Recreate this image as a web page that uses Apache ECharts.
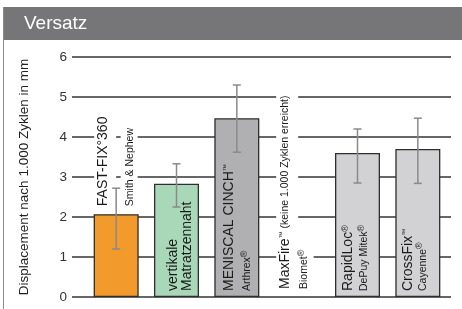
<!DOCTYPE html>
<html><head><meta charset="utf-8">
<script src="https://cdn.jsdelivr.net/npm/echarts@6/dist/echarts.min.js"></script>
<style>html,body{margin:0;padding:0;background:#fff}#c{width:462px;height:309px}</style>
</head><body><div id="c"></div>
<script>
// ---- data ----
var categories = ['FAST-FIX°360', 'vertikale Matratzennaht', 'MENISCAL CINCH™', 'MaxFire™', 'RapidLoc®', 'CrossFix™'];
var manufacturers = ['Smith & Nephew', '', 'Arthrex®', 'Biomet®', 'DePuy Mitek®', 'Cayenne®'];
var meanValues = [2.07, 2.83, 4.47, null, 3.6, 3.7];
var errLow = [1.2, 2.25, 3.62, null, 2.85, 2.84];
var errHigh = [2.72, 3.33, 5.3, null, 4.2, 4.47];
var yTicks = [0, 1, 2, 3, 4, 5, 6];
var titleText = 'Versatz';
var yAxisTitle = 'Displacement nach 1.000 Zyklen in mm';

// ---- styles (not data) ----
var barColors = ['#F39A2C', '#A8D8B8', '#B0B0B2', '#D2D2D4', '#D2D2D4', '#D2D2D4'];
var FONT = 'Liberation Sans, Arial, sans-serif';
// [main offset, sub offset, placement]
var labelLayout = [
  [-11, 13, 'above'],
  [-3.5, 10.5, 'base'],
  [-7.5, 10.5, 'base'],
  [-10, 6, 'base'],
  [-9, 7, 'base'],
  [-9.5, 5, 'base']
];
var mainTexts = [
  '{m|FAST-FIX°360}',
  '{m|vertikale}',
  '{m|MENISCAL CINCH}{t|™}',
  '{m|MaxFire}{t|™}{s| (keine 1.000 Zyklen erreicht)}',
  '{m|RapidLoc}{r|®}',
  '{m|CrossFix}{t|™}'
];
var subTexts = [
  '{s|Smith & Nephew}',
  '{m|Matratzennaht}',
  '{s|Arthrex}{r|®}',
  '{s|Biomet}{r|®}',
  '{s|DePuy Mitek}{r|®}',
  '{s|Cayenne}{r|®}'
];
var rich = {
  m: {fontSize: 14, fontFamily: FONT, fill: '#1a1a1a', color: '#1a1a1a'},
  s: {fontSize: 10.5, fontFamily: FONT, fill: '#1a1a1a', color: '#1a1a1a'},
  t: {fontSize: 7, fontFamily: FONT, fill: '#1a1a1a', color: '#1a1a1a', verticalAlign: 'top', padding: [0,0,6,0]},
  r: {fontSize: 9, fontFamily: FONT, fill: '#1a1a1a', color: '#1a1a1a', padding: [0,0,6,0]}
};

var yMin = yTicks[0], yMax = yTicks[yTicks.length - 1];
var chart = echarts.init(document.getElementById('c'), null, {renderer: 'canvas'});

var customData = categories.map(function (c, i) {
  return [i, meanValues[i] == null ? 0 : meanValues[i], errLow[i], errHigh[i]];
});

function renderItem(params, api) {
  var i = api.value(0);
  var lay = labelLayout[i];
  var children = [];
  var base = api.coord([i, 0]);
  var cx = base[0];
  var lo = errLow[i], hi = errHigh[i];
  var yStart;
  var outside = lay[2] === 'above' || meanValues[i] == null;
  if (lay[2] === 'above') {
    yStart = api.coord([i, meanValues[i]])[1] - 6;
  } else {
    yStart = base[1] - 6;
  }
  var bg = outside ? '#fff' : null;
  children.push({
    type: 'text', x: cx + lay[0], y: yStart, rotation: Math.PI / 2, z2: 5,
    style: {text: mainTexts[i], rich: rich, align: 'left', verticalAlign: 'middle',
      backgroundColor: bg, padding: outside ? [2, 2, 6, 2] : 0, fill: '#1a1a1a'}
  });
  children.push({
    type: 'text', x: cx + lay[1], y: yStart, rotation: Math.PI / 2, z2: 5,
    style: {text: subTexts[i], rich: rich, align: 'left', verticalAlign: 'middle',
      backgroundColor: bg, padding: outside ? [4, 2, 2, 2] : 0, fill: '#1a1a1a'}
  });
  if (lo != null && hi != null) {
    var pLo = api.coord([i, lo]), pHi = api.coord([i, hi]);
    var st = {stroke: '#8a8a8a', lineWidth: 1.5};
    children.push({type: 'line', z2: 10, shape: {x1: cx, y1: pLo[1], x2: cx, y2: pHi[1]}, style: st});
    children.push({type: 'line', z2: 10, shape: {x1: cx - 4, y1: pLo[1], x2: cx + 4, y2: pLo[1]}, style: st});
    children.push({type: 'line', z2: 10, shape: {x1: cx - 4, y1: pHi[1], x2: cx + 4, y2: pHi[1]}, style: st});
  }
  return {type: 'group', children: children};
}

var option = {
  animation: false,
  grid: [
    {left: 72, right: 11, top: 57, bottom: 12},
    {left: 86, right: 14, top: 57, bottom: 12}
  ],
  xAxis: [
    {gridIndex: 0, type: 'category', data: categories, show: false},
    {gridIndex: 1, type: 'category', data: categories, show: false}
  ],
  yAxis: [
    {gridIndex: 0, type: 'value', min: yMin, max: yMax, interval: 1,
      axisLine: {show: false}, axisTick: {show: false},
      axisLabel: {margin: 5, fontSize: 13.5, color: '#333', fontFamily: FONT},
      splitLine: {lineStyle: {color: '#333', width: 1.5}},
      name: yAxisTitle, nameLocation: 'middle', nameGap: 41,
      nameTextStyle: {fontSize: 13.5, color: '#222', fontFamily: FONT}
    },
    {gridIndex: 1, type: 'value', min: yMin, max: yMax, interval: 1, show: false, splitLine: {show: false}}
  ],
  series: [
    {type: 'bar', xAxisIndex: 1, yAxisIndex: 1, barWidth: 45,
      data: meanValues.map(function (v, i) {
        return {value: v == null ? '-' : v, itemStyle: {color: barColors[i]}};
      }),
      itemStyle: {borderColor: '#2e2e2e', borderWidth: 1.3}
    },
    {type: 'custom', xAxisIndex: 1, yAxisIndex: 1, renderItem: renderItem, data: customData, z: 5}
  ],
  graphic: [
    {type: 'rect', shape: {x: 3, y: 7, width: 459, height: 33}, style: {fill: '#767678'}},
    {type: 'line', shape: {x1: 3.5, y1: 7, x2: 3.5, y2: 309}, style: {stroke: '#8a8a8a', lineWidth: 1}},
    {type: 'text', x: 24, y: 24, style: {text: titleText, fill: '#fff', font: '19px ' + FONT, verticalAlign: 'middle'}}
  ]
};
chart.setOption(option);
</script>
</body></html>
